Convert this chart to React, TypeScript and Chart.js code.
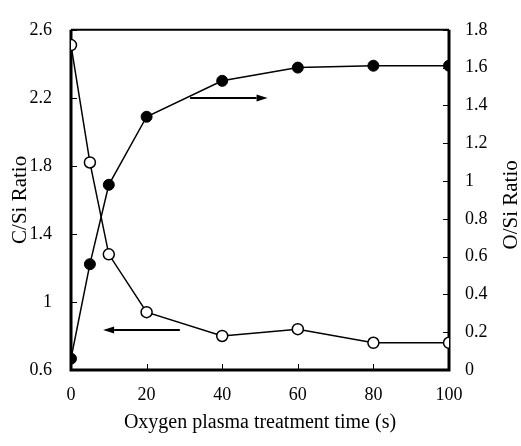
import React, { useEffect, useRef } from 'react';
import { Chart, registerables } from 'chart.js';

Chart.register(...registerables);

// ---- Data ----
const times = [0, 5, 10, 20, 40, 60, 80, 100];
const cSiRatio = [2.51, 1.82, 1.28, 0.94, 0.8, 0.84, 0.76, 0.76];
const oSiRatio = [0.06, 0.56, 0.98, 1.34, 1.53, 1.6, 1.61, 1.61];

const xTickValues = [0, 20, 40, 60, 80, 100];
const leftTickValues = [0.6, 1, 1.4, 1.8, 2.2, 2.6];
const rightTickValues = [0, 0.2, 0.4, 0.6, 0.8, 1, 1.2, 1.4, 1.6, 1.8];

const xTitle = 'Oxygen plasma treatment time (s)';
const leftTitle = 'C/Si Ratio';
const rightTitle = 'O/Si Ratio';

// Arrows (data units: x on time axis, y on C/Si axis)
const arrowFromX = [31.5, 28.8];
const arrowToX = [52, 8.5];
const arrowY = [2.2, 0.834];

const FONT = '"Liberation Serif", "Times New Roman", serif';

const framePlugin = {
  id: 'frameTicks',
  beforeDatasetsDraw(chart: any) {
    const { ctx, chartArea: a, scales } = chart;
    ctx.save();
    ctx.strokeStyle = '#000';
    ctx.lineWidth = 1;
    const L = 6;
    scales.y.ticks.forEach((t: any) => {
      const y = Math.round(scales.y.getPixelForValue(t.value)) + 0.5;
      ctx.beginPath();
      ctx.moveTo(a.left, y);
      ctx.lineTo(a.left + L, y);
      ctx.stroke();
    });
    scales.y2.ticks.forEach((t: any) => {
      const y = Math.round(scales.y2.getPixelForValue(t.value)) + 0.5;
      ctx.beginPath();
      ctx.moveTo(a.right, y);
      ctx.lineTo(a.right - L, y);
      ctx.stroke();
    });
    scales.x.ticks.forEach((t: any) => {
      const x = Math.round(scales.x.getPixelForValue(t.value)) + 0.5;
      ctx.beginPath();
      ctx.moveTo(x, a.bottom);
      ctx.lineTo(x, a.bottom - L);
      ctx.stroke();
    });
    ctx.lineWidth = 3;
    ctx.beginPath();
    ctx.moveTo(a.left, a.top);
    ctx.lineTo(a.left, a.bottom);
    ctx.lineTo(a.right, a.bottom);
    ctx.lineTo(a.right, a.top);
    ctx.stroke();
    ctx.lineWidth = 2;
    ctx.beginPath();
    ctx.moveTo(a.left, a.top);
    ctx.lineTo(a.right, a.top);
    ctx.stroke();
    ctx.restore();
  },
};

const arrowPlugin = {
  id: 'arrows',
  afterDatasetsDraw(chart: any) {
    const { ctx, scales, chartArea: a } = chart;
    ctx.save();
    ctx.strokeStyle = '#000';
    ctx.fillStyle = '#000';
    ctx.lineWidth = 2;
    for (let i = 0; i < arrowY.length; i++) {
      const x1 = scales.x.getPixelForValue(arrowFromX[i]);
      const x2 = scales.x.getPixelForValue(arrowToX[i]);
      const y = Math.round(scales.y.getPixelForValue(arrowY[i]));
      const dir = x2 > x1 ? 1 : -1;
      const head = 11;
      ctx.beginPath();
      ctx.moveTo(x1, y);
      ctx.lineTo(x2 - dir * head, y);
      ctx.stroke();
      ctx.beginPath();
      ctx.moveTo(x2, y);
      ctx.lineTo(x2 - dir * head, y - 3.5);
      ctx.lineTo(x2 - dir * head, y + 3.5);
      ctx.closePath();
      ctx.fill();
    }
    // right axis title, reading bottom-to-top like the left one
    const s = scales.y2;
    ctx.translate(s.right - 10, (a.top + a.bottom) / 2 + 5);
    ctx.rotate(-Math.PI / 2);
    ctx.font = `21px ${FONT}`;
    ctx.textAlign = 'center';
    ctx.textBaseline = 'middle';
    ctx.fillText(rightTitle, 0, 0);
    ctx.restore();
  },
};

const fmt = (v: number) => String(+Number(v).toFixed(2));

export default function App() {
  const ref = useRef<HTMLCanvasElement | null>(null);
  useEffect(() => {
    if (!ref.current) return;
    const chart = new Chart(ref.current, {
      type: 'line',
      data: {
        datasets: [
          {
            label: 'C/Si',
            data: times.map((t, i) => ({ x: t, y: cSiRatio[i] })),
            yAxisID: 'y',
            borderColor: '#000',
            borderWidth: 1.5,
            pointRadius: 5.5,
            pointBackgroundColor: '#fff',
            pointBorderColor: '#000',
            pointBorderWidth: 1.5,
            tension: 0,
          },
          {
            label: 'O/Si',
            data: times.map((t, i) => ({ x: t, y: oSiRatio[i] })),
            yAxisID: 'y2',
            borderColor: '#000',
            borderWidth: 1.5,
            pointRadius: 5.5,
            pointBackgroundColor: '#000',
            pointBorderColor: '#000',
            pointBorderWidth: 1,
            tension: 0,
          },
        ],
      },
      options: {
        animation: false,
        responsive: false,
        layout: { padding: { top: 20, left: 0, right: 0, bottom: 0 } },
        plugins: { legend: { display: false }, tooltip: { enabled: false } },
        scales: {
          x: {
            type: 'linear',
            min: 0,
            max: 100,
            afterBuildTicks: (s: any) => {
              s.ticks = xTickValues.map((v) => ({ value: v }));
            },
            afterFit: (s: any) => {
              s.height = 76;
            },
            grid: { display: false, drawTicks: false },
            border: { display: false },
            ticks: {
              color: '#000',
              padding: 14,
              maxRotation: 0,
              font: { family: FONT, size: 18 },
              callback: (v: any) => fmt(v),
            },
            title: {
              display: true,
              text: xTitle,
              color: '#000',
              font: { family: FONT, size: 20, lineHeight: 1 },
              padding: { top: 0, bottom: 13 },
            },
          },
          y: {
            type: 'linear',
            position: 'left',
            min: 0.6,
            max: 2.6,
            afterBuildTicks: (s: any) => {
              s.ticks = leftTickValues.map((v) => ({ value: v }));
            },
            afterFit: (s: any) => {
              s.width = 71;
            },
            grid: { display: false, drawTicks: false },
            border: { display: false },
            ticks: {
              color: '#000',
              padding: 19,
              font: { family: FONT, size: 18 },
              callback: (v: any) => fmt(v),
            },
            title: {
              display: true,
              text: leftTitle,
              color: '#000',
              font: { family: FONT, size: 21, lineHeight: 1 },
              padding: { top: 10, bottom: 0 },
            },
          },
          y2: {
            type: 'linear',
            position: 'right',
            min: 0,
            max: 1.8,
            afterBuildTicks: (s: any) => {
              s.ticks = rightTickValues.map((v) => ({ value: v }));
            },
            afterFit: (s: any) => {
              s.width = 72;
            },
            grid: { display: false, drawTicks: false },
            border: { display: false },
            ticks: {
              color: '#000',
              padding: 16,
              font: { family: FONT, size: 18 },
              callback: (v: any) => fmt(v),
            },
            title: { display: false },
          },
        },
      },
      plugins: [framePlugin, arrowPlugin],
    } as any);
    return () => chart.destroy();
  }, []);
  return (
    <div style={{ position: 'absolute', left: 0, top: 0, width: 521, height: 446, background: '#fff' }}>
      <canvas ref={ref} width={521} height={446} style={{ display: 'block' }} />
    </div>
  );
}
